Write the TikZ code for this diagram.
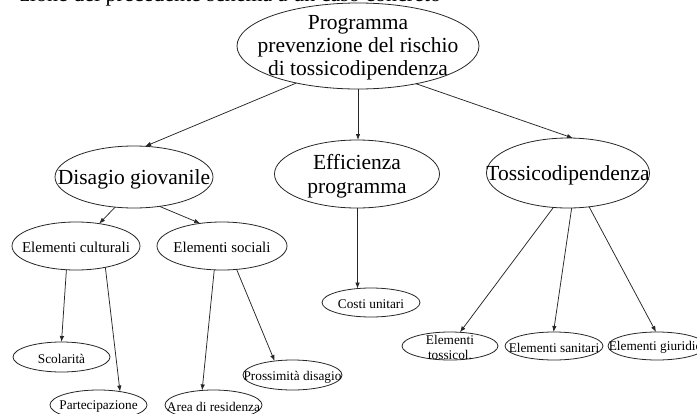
\documentclass[tikz,border=0pt]{standalone}
\usepackage{fontspec}
\setmainfont{Liberation Serif}
\usetikzlibrary{shapes.geometric,arrows.meta}

\tikzset{
  bubble/.style={ellipse, draw=black!85, line width=0.8pt, inner sep=0pt, outer sep=0pt},
  link/.style={draw=black!85, line width=0.75pt, -{Latex[length=6pt,width=4.5pt]}},
  bigtxt/.style={font=\fontsize{21.5}{23}\selectfont, align=center, inner sep=0pt, yshift=-2pt},
  midtxt/.style={font=\fontsize{15}{17}\selectfont, align=center, inner sep=0pt, yshift=-1pt},
  smalltxt/.style={font=\fontsize{13.3}{15}\selectfont, align=center, inner sep=0pt, yshift=-1.5pt},
}

\begin{document}
\begin{tikzpicture}[x=1pt, y=-1pt]
\useasboundingbox (0,0) rectangle (697,413);
\clip (0,0) rectangle (697,413);

% caption line running off the top edge
\node[anchor=base west, font=\fontsize{22}{26}\selectfont, inner sep=0pt] (caption) at (20,1.5)
  {zione del precedente schema a un caso concreto};

% root
\node[bubble, minimum width=242, minimum height=86,
  label={[bigtxt]center:Programma\\prevenzione del rischio\\di tossicodipendenza}] (prog) at (358,46) {};

% second level
\node[bubble, minimum width=158, minimum height=62,
  label={[bigtxt]center:Disagio giovanile}] (dis) at (134,177) {};
\node[bubble, minimum width=165, minimum height=68,
  label={[bigtxt, font=\fontsize{21.5}{24.5}\selectfont]center:Efficienza\\programma}] (eff) at (357,174) {};
\node[bubble, minimum width=163, minimum height=70,
  label={[bigtxt]center:Tossicodipendenza}] (tox) at (568,173) {};

% third level
\node[bubble, minimum width=128, minimum height=48,
  label={[midtxt]center:Elementi culturali}] (cult) at (76,246) {};
\node[bubble, minimum width=130, minimum height=48,
  label={[midtxt]center:Elementi sociali}] (soc) at (222,246) {};
\node[bubble, minimum width=98, minimum height=29,
  label={[smalltxt]center:Costi unitari}] (costi) at (371,302.5) {};
\node[bubble, minimum width=96, minimum height=28,
  label={[smalltxt]center:Elementi\\tossicol.}] (tossicol) at (450,346) {};
\node[bubble, minimum width=98, minimum height=28,
  label={[smalltxt]center:Elementi sanitari}] (sanit) at (554,346) {};
\node[bubble, minimum width=98, minimum height=28,
  label={[smalltxt]center:Elementi giuridici}] (giur) at (657,346) {};

% leaves
\node[bubble, minimum width=97, minimum height=30,
  label={[smalltxt]center:Scolarità}] (scol) at (61.5,357) {};
\node[bubble, minimum width=97, minimum height=30,
  label={[smalltxt]center:Partecipazione}] (part) at (98.5,405) {};
\node[bubble, minimum width=97, minimum height=30,
  label={[smalltxt]center:Area di residenza}] (area) at (213.5,405) {};
\node[bubble, minimum width=99, minimum height=30,
  label={[smalltxt, yshift=-1pt]center:Prossimità disagio}] (pross) at (292.5,375) {};

% connectors
\draw[link] (prog.-149) -- (dis.70);
\draw[link] (prog.south) -- (prog.south |- eff.north);
\draw[link] (prog.-33) -- (tox.82);
\draw[link] (dis.-122) -- (cult.44);
\draw[link] (dis.-49) -- (soc.134);
\draw[link] (costi.134 |- eff.south) -- (costi.134);
\draw[link] (tox.-113) -- (tossicol.54);
\draw[link] (tox.-84) -- (sanit.92);
\draw[link] (tox.-58) -- (giur.94);
\draw[link] (cult.-112) -- (scol.90);
\draw[link] (cult.-36) -- (part.32);
\draw[link] (soc.-108) -- (area.128);
\draw[link] (soc.-58) -- (pross.142);
\end{tikzpicture}
\end{document}
